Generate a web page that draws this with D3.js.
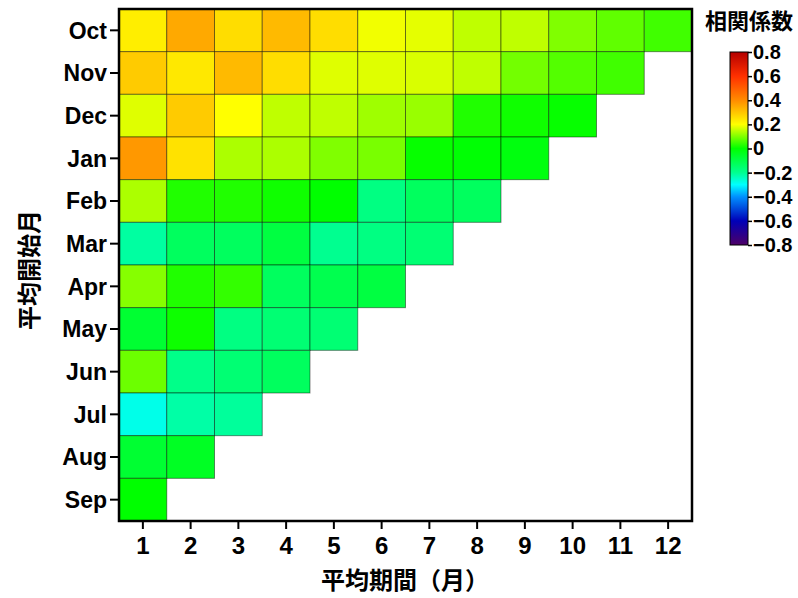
<!DOCTYPE html>
<html>
<head>
<meta charset="utf-8">
<script src="https://cdn.jsdelivr.net/npm/d3@7"></script>
<style>
  html, body { margin: 0; padding: 0; background: #fff; }
  svg { display: block; }
</style>
</head>
<body>
<svg id="chart" width="798" height="598"></svg>
<script>
// ---- data ----
const startMonths = ["Oct","Nov","Dec","Jan","Feb","Mar","Apr","May","Jun","Jul","Aug","Sep"];
const periods = [1,2,3,4,5,6,7,8,9,10,11,12];
const octValues = [0.23, 0.35, 0.26, 0.32, 0.26, 0.19, 0.18, 0.15, 0.15, 0.10, 0.075, 0.05];
const novValues = [0.29, 0.24, 0.32, 0.26, 0.175, 0.175, 0.17, 0.15, 0.09, 0.065, 0.05];
const decValues = [0.175, 0.29, 0.20, 0.15, 0.15, 0.125, 0.12, 0.025, 0.012, 0.005];
const janValues = [0.38, 0.25, 0.135, 0.135, 0.10, 0.095, 0.005, -0.005, -0.02];
const febValues = [0.135, 0.025, 0.025, 0.012, 0.0, -0.18, -0.13, -0.13];
const marValues = [-0.215, -0.13, -0.13, -0.09, -0.2, -0.18, -0.16];
const aprValues = [0.105, 0.025, 0.04, -0.13, -0.11, -0.09];
const mayValues = [-0.07, 0.01, -0.18, -0.16, -0.16];
const junValues = [0.085, -0.19, -0.16, -0.13];
const julValues = [-0.28, -0.22, -0.21];
const augValues = [-0.07, -0.05];
const sepValues = [0.0];
const colorbarTicks = [-0.8, -0.6, -0.4, -0.2, 0, 0.2, 0.4, 0.6, 0.8];
const colorStopValues = [-0.8, -0.6, -0.4, -0.3, -0.2, 0, 0.2, 0.4, 0.6, 0.8];
const colorStopColors = ["#4e0066", "#0000b8", "#0090ff", "#00ffff", "#00ff90", "#00ff00", "#ffff00", "#ff8c00", "#ff3000", "#b40000"];
const xTitle = "平均期間（月）";
const yTitle = "平均開始月";
const legendTitle = "相関係数";

const rows = [octValues, novValues, decValues, janValues, febValues, marValues,
              aprValues, mayValues, junValues, julValues, augValues, sepValues];
const cells = [];
rows.forEach((vals, i) => vals.forEach((v, j) => cells.push({ month: startMonths[i], period: periods[j], value: v })));

// ---- layout ----
const svg = d3.select("#chart");
const plot = { left: 119, top: 9, right: 692, bottom: 521 };
const latin = "'Liberation Sans', Arial, Helvetica, sans-serif";
const cjk = "'Noto Sans CJK JP', 'Noto Sans CJK SC', sans-serif";

const x = d3.scaleBand().domain(periods).range([plot.left, plot.right]);
const y = d3.scaleBand().domain(startMonths).range([plot.top, plot.bottom]);
const color = d3.scaleLinear().domain(colorStopValues).range(colorStopColors).clamp(true);

// cells
svg.append("g").selectAll("rect").data(cells).join("rect")
  .attr("x", d => x(d.period))
  .attr("y", d => y(d.month))
  .attr("width", x.bandwidth())
  .attr("height", y.bandwidth())
  .attr("fill", d => color(d.value))
  .attr("stroke", "rgba(0,0,0,0.45)")
  .attr("stroke-width", 1);

// frame
svg.append("rect")
  .attr("x", plot.left).attr("y", plot.top)
  .attr("width", plot.right - plot.left).attr("height", plot.bottom - plot.top)
  .attr("fill", "none").attr("stroke", "#000").attr("stroke-width", 2.5);

// axes
const yAxis = svg.append("g").attr("transform", `translate(${plot.left - 1},0)`)
  .call(d3.axisLeft(y).tickSize(8).tickPadding(3));
yAxis.select(".domain").remove();
yAxis.selectAll(".tick line").attr("stroke", "#000").attr("stroke-width", 2);
yAxis.selectAll(".tick text").attr("font-family", latin).attr("font-weight", "bold")
  .attr("font-size", 23).attr("fill", "#000").attr("dy", "0.36em");

const xAxis = svg.append("g").attr("transform", `translate(0,${plot.bottom + 1})`)
  .call(d3.axisBottom(x).tickSize(7).tickPadding(8));
xAxis.select(".domain").remove();
xAxis.selectAll(".tick line").attr("stroke", "#000").attr("stroke-width", 2);
xAxis.selectAll(".tick text").attr("font-family", latin).attr("font-weight", "bold")
  .attr("font-size", 24).attr("fill", "#000");

// axis titles
svg.append("text")
  .attr("transform", "translate(38,270) rotate(-90)")
  .attr("text-anchor", "middle")
  .attr("font-family", cjk).attr("font-weight", "bold").attr("font-size", 24)
  .text(yTitle);
svg.append("text")
  .attr("x", 405).attr("y", 589)
  .attr("text-anchor", "middle")
  .attr("font-family", cjk).attr("font-weight", "bold").attr("font-size", 24)
  .text(xTitle);

// colorbar
const cb = { x: 730, w: 18, top: 52, bottom: 245 };
const cbScale = d3.scaleLinear().domain([-0.8, 0.8]).range([cb.bottom, cb.top]);
const defs = svg.append("defs");
const grad = defs.append("linearGradient").attr("id", "cbgrad")
  .attr("x1", 0).attr("y1", 1).attr("x2", 0).attr("y2", 0);
colorStopValues.forEach((v, i) => {
  grad.append("stop")
    .attr("offset", (v + 0.8) / 1.6)
    .attr("stop-color", colorStopColors[i]);
});
svg.append("rect")
  .attr("x", cb.x).attr("y", cb.top).attr("width", cb.w).attr("height", cb.bottom - cb.top)
  .attr("fill", "url(#cbgrad)").attr("stroke", "#000").attr("stroke-width", 1);
const cbAxis = svg.append("g").attr("transform", `translate(${cb.x + cb.w},0)`)
  .call(d3.axisRight(cbScale).tickValues(colorbarTicks).tickSize(4).tickPadding(1)
    .tickFormat(d => d === 0 ? "0" : d3.format(".1f")(d)));
cbAxis.select(".domain").remove();
cbAxis.selectAll(".tick line").attr("stroke", "#000").attr("stroke-width", 1.5);
cbAxis.selectAll(".tick text").attr("font-family", latin).attr("font-weight", "bold")
  .attr("font-size", 20).attr("fill", "#000");

svg.append("text")
  .attr("x", 749).attr("y", 29)
  .attr("text-anchor", "middle")
  .attr("font-family", cjk).attr("font-weight", "bold").attr("font-size", 22)
  .text(legendTitle);
</script>
</body>
</html>
